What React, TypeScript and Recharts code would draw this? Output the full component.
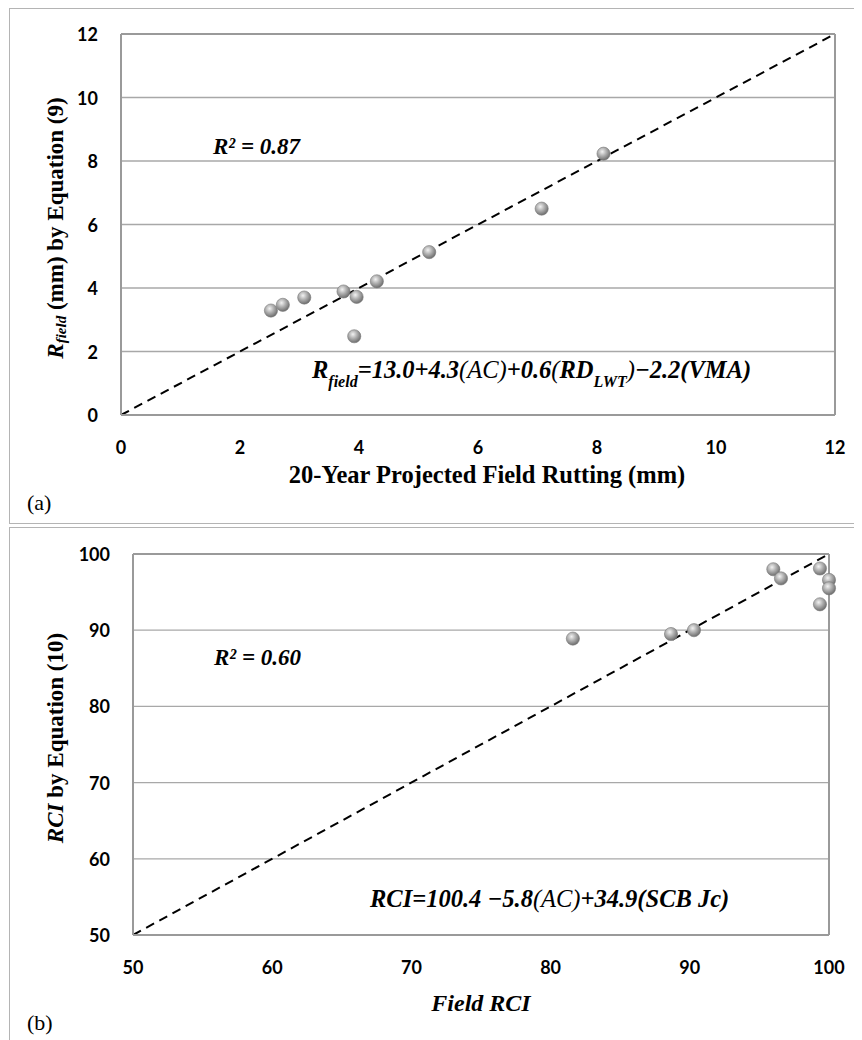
import React from "react";
import { ScatterChart, Scatter, XAxis, YAxis, CartesianGrid, ReferenceLine } from "recharts";

// Panel (a)
const fieldRut = [2.52, 2.72, 3.08, 3.74, 3.96, 3.92, 4.3, 5.18, 7.07, 8.11];
const eqRut = [3.29, 3.47, 3.7, 3.89, 3.72, 2.48, 4.21, 5.13, 6.5, 8.23];
const rutTicks = [0, 2, 4, 6, 8, 10, 12];

// Panel (b)
const fieldRci = [81.6, 88.65, 90.3, 96.0, 96.55, 99.35, 99.35, 100, 100];
const eqRci = [88.9, 89.5, 90.0, 98.0, 96.8, 98.1, 93.4, 96.6, 95.5];
const rciTicks = [50, 60, 70, 80, 90, 100];

const rutData = fieldRut.map((x, i) => ({ x, y: eqRut[i] }));
const rciData = fieldRci.map((x, i) => ({ x, y: eqRci[i] }));

const SERIF = "'Liberation Serif', 'Times New Roman', serif";
const TICKFONT = "Lato, 'Open Sans', sans-serif";
const AXIS_GRAY = "#9a9a9a";

const Ball = (props: any) => {
  const { cx, cy } = props;
  if (cx == null || cy == null) return null;
  return (
    <g>
      <defs>
        <radialGradient id="ballGrad" cx="40%" cy="35%" r="65%">
          <stop offset="0%" stopColor="#f2f2f2" />
          <stop offset="45%" stopColor="#b4b4b4" />
          <stop offset="100%" stopColor="#6e6e6e" />
        </radialGradient>
      </defs>
      <circle cx={cx} cy={cy} r={6.6} fill="url(#ballGrad)" stroke="#7a7a7a" strokeWidth={0.6} />
    </g>
  );
};

const XTick = (props: any) => {
  const { x, y, payload } = props;
  return (
    <text x={x} y={y + 32} textAnchor="middle" dominantBaseline="central"
      fontFamily={TICKFONT} fontWeight={700} fontSize={18} fill="#000">
      {payload.value}
    </text>
  );
};

const YTick = (props: any) => {
  const { x, y, payload } = props;
  return (
    <text x={x - 23} y={y} textAnchor="end" dominantBaseline="central"
      fontFamily={TICKFONT} fontWeight={700} fontSize={18} fill="#000">
      {payload.value}
    </text>
  );
};

export default function App() {
  return (
    <div style={{ position: "relative", width: 848, height: 1032 }}>
      {/* panel borders */}
      <svg width={848} height={1032} style={{ position: "absolute", left: 0, top: 0 }}>
        <rect x={1.5} y={0.5} width={846} height={515} fill="none" stroke="#b4b4b4" strokeWidth={1} />
        <rect x={1.5} y={519.5} width={846} height={530} fill="none" stroke="#b4b4b4" strokeWidth={1} />
      </svg>

      <div style={{ position: "absolute", left: 0, top: 0 }}>
        <ScatterChart width={846} height={516} margin={{ top: 26, right: 19, left: 53, bottom: 0 }}>
          <CartesianGrid vertical={false} stroke="#a8a8a8" strokeWidth={1.3} />
          <XAxis type="number" dataKey="x" domain={[0, 12]} ticks={rutTicks} height={109}
            tickSize={0} tickMargin={0} tickLine={false} tick={<XTick />}
            axisLine={{ stroke: AXIS_GRAY, strokeWidth: 2 }} />
          <YAxis type="number" dataKey="y" domain={[0, 12]} ticks={rutTicks} width={60}
            tickSize={0} tickMargin={0} tickLine={false} tick={<YTick />}
            axisLine={{ stroke: AXIS_GRAY, strokeWidth: 2 }} />
          <ReferenceLine x={12} stroke={AXIS_GRAY} strokeWidth={2} />
          <ReferenceLine y={12} stroke={AXIS_GRAY} strokeWidth={2} />
          <ReferenceLine segment={[{ x: 0, y: 0 }, { x: 12, y: 12 }]} stroke="#000" strokeWidth={2} strokeDasharray="9 6" />
          <Scatter data={rutData} shape={<Ball />} isAnimationActive={false} />
        </ScatterChart>
      </div>

      <div style={{ position: "absolute", left: 0, top: 519 }}>
        <ScatterChart width={846} height={513} margin={{ top: 27, right: 25, left: 65, bottom: 0 }}>
          <CartesianGrid vertical={false} stroke="#a8a8a8" strokeWidth={1.3} />
          <XAxis type="number" dataKey="x" domain={[50, 100]} ticks={rciTicks} height={105}
            tickSize={0} tickMargin={0} tickLine={false} tick={<XTick />}
            axisLine={{ stroke: AXIS_GRAY, strokeWidth: 2 }} />
          <YAxis type="number" dataKey="y" domain={[50, 100]} ticks={rciTicks} width={60}
            tickSize={0} tickMargin={0} tickLine={false} tick={<YTick />}
            axisLine={{ stroke: AXIS_GRAY, strokeWidth: 2 }} />
          <ReferenceLine x={100} stroke={AXIS_GRAY} strokeWidth={2} />
          <ReferenceLine y={100} stroke={AXIS_GRAY} strokeWidth={2} />
          <ReferenceLine segment={[{ x: 50, y: 50 }, { x: 100, y: 100 }]} stroke="#000" strokeWidth={2} strokeDasharray="9 6" />
          <Scatter data={rciData} shape={<Ball />} isAnimationActive={false} />
        </ScatterChart>
      </div>

      {/* text overlay */}
      <svg width={848} height={1032} style={{ position: "absolute", left: 0, top: 0, pointerEvents: "none" }}>
        <g fontFamily={SERIF} fill="#000">
          {/* panel (a) */}
          <text x={205} y={146} fontSize={23} fontWeight={700} fontStyle="italic">R² = 0.87</text>
          <text x={304} y={370} fontSize={24.5} fontWeight={700} fontStyle="italic">
            <tspan>R</tspan>
            <tspan fontSize={16} dy={9}>field</tspan>
            <tspan dy={-9}>=13.0+4.3</tspan>
            <tspan fontWeight={400}>(AC)</tspan>
            <tspan>+0.6</tspan>
            <tspan fontWeight={400}>(</tspan>
            <tspan>RD</tspan>
            <tspan fontSize={16} dy={9}>LWT</tspan>
            <tspan dy={-9} fontWeight={400}>)</tspan>
            <tspan>−2.2(VMA)</tspan>
          </text>
          <text x={479} y={466} fontSize={24.5} fontWeight={700} textAnchor="middle" dominantBaseline="central">
            20-Year Projected Field Rutting (mm)
          </text>
          <text transform="translate(47,220) rotate(-90)" fontSize={23} fontWeight={700} textAnchor="middle" dominantBaseline="central">
            <tspan fontStyle="italic">R</tspan>
            <tspan fontStyle="italic" fontSize={15} dy={6}>field</tspan>
            <tspan dy={-6}> (mm) by Equation (9)</tspan>
          </text>
          <text x={19} y={494} fontSize={22} dominantBaseline="central">(a)</text>

          {/* panel (b) */}
          <text x={206} y={657} fontSize={23} fontWeight={700} fontStyle="italic">R² = 0.60</text>
          <text x={362} y={899} fontSize={24.5} fontWeight={700} fontStyle="italic">
            <tspan>RCI=100.4 −5.8</tspan>
            <tspan fontWeight={400}>(AC)</tspan>
            <tspan>+34.9(SCB Jc)</tspan>
          </text>
          <text x={473} y={995} fontSize={24} fontWeight={700} fontStyle="italic" textAnchor="middle" dominantBaseline="central">
            Field RCI
          </text>
          <text transform="translate(47,730) rotate(-90)" fontSize={23} fontWeight={700} textAnchor="middle" dominantBaseline="central">
            <tspan fontStyle="italic">RCI</tspan>
            <tspan> by Equation (10)</tspan>
          </text>
          <text x={19} y={1014} fontSize={22} dominantBaseline="central">(b)</text>
        </g>
      </svg>
    </div>
  );
}
